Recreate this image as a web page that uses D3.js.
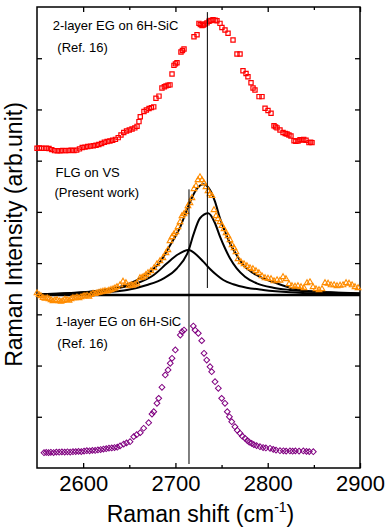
<!DOCTYPE html>
<html>
<head>
<meta charset="utf-8">
<script src="https://cdn.jsdelivr.net/npm/d3@7"></script>
<style>
  body { margin: 0; background: #fff; }
  svg text { font-family: "Liberation Sans", Arial, sans-serif; fill: #000; }
  .note { font-size: 13px; }
  .axis-title { font-size: 23px; }
  .tick text { font-size: 22px; }
</style>
</head>
<body>
<svg id="chart" width="390" height="530"></svg>
<script>
// [Raman shift (cm-1), intensity (arb.)]
const twoLayer = [
  [2550, 312.1], [2552.5, 312.3], [2555, 312.1], [2557.5, 312.0], [2560, 312.2], [2563, 311.8],
  [2566, 310.8], [2569, 309.8], [2572, 309.6], [2575, 309.7], [2578, 309.9], [2581, 309.8],
  [2584, 310.0], [2587, 310.1], [2590, 310.0], [2593, 310.3], [2596, 311.5], [2599, 312.8],
  [2602, 313.2], [2605, 313.8], [2608, 314.2], [2611, 314.5], [2614, 315.0], [2617, 315.8],
  [2620, 316.8], [2623, 318.0], [2626, 318.8], [2629, 319.2], [2632, 320.0], [2635, 320.8],
  [2638, 322.5], [2641, 325.0], [2644, 327.5], [2647, 329.0], [2650, 330.0], [2653, 331.0],
  [2656, 332.0], [2658.4, 333.5], [2660.5, 338.1], [2661.9, 342.9], [2665.9, 348.0], [2668.5, 349.5],
  [2671.4, 351.0], [2674, 351.8], [2676.5, 352.5], [2678.9, 361.0], [2682.2, 363.0], [2685.4, 371.0],
  [2688, 372.2], [2689.8, 373.0], [2692, 373.6], [2694.1, 374.0], [2696.3, 384.6], [2698.4, 393.0],
  [2700, 394.5], [2701.7, 395.5], [2706.0, 406.0], [2707.6, 407.5], [2709.3, 409.0], [2720.1, 421.0],
  [2723.4, 423.0], [2725.5, 434.0], [2727, 433.0], [2728.8, 432.0], [2730.4, 432.5], [2732.0, 433.5],
  [2734.2, 434.5], [2736.4, 436.0], [2738.5, 436.8], [2740.7, 437.5], [2743, 437.2], [2745.0, 436.5],
  [2748.3, 434.0], [2750.4, 430.0], [2753.7, 427.6], [2757.0, 424.3], [2762.4, 417.8], [2766.7, 404.1],
  [2770.0, 404.1], [2773.2, 387.8], [2776.5, 385.0], [2778.6, 382.0], [2781.9, 376.0], [2784.1, 371.0],
  [2786.2, 369.0], [2790.6, 362.5], [2793.8, 362.5], [2797.1, 351.1], [2800.3, 349.0], [2803.6, 346.3],
  [2806.8, 334.0], [2808.5, 333.0], [2810.1, 332.0], [2813.3, 330.0], [2816.6, 327.5], [2819, 326.5],
  [2820.9, 326.0], [2823, 325.0], [2825.2, 324.0], [2828.5, 319.5], [2830.5, 319.0], [2832.8, 319.2],
  [2835, 320.5], [2837.1, 320.2], [2839, 320.8], [2841.5, 320.0], [2844.7, 317.6], [2846.5, 318.0],
  [2848.0, 317.6]
];

const flg = [
  [2550.0, 170.8], [2552.2, 169.0], [2554.3, 167.9], [2556.5, 166.2], [2558.7, 165.5], [2561, 165.8],
  [2563.0, 165.0], [2565.2, 164.0], [2567.3, 163.0], [2569.5, 163.8], [2571.7, 164.0], [2574, 163.0],
  [2576.0, 162.5], [2578.2, 163.2], [2580.3, 164.5], [2582.5, 164.2], [2584.7, 163.5], [2587, 165.0],
  [2589.0, 166.0], [2591.2, 165.8], [2593.3, 166.5], [2595.5, 166.0], [2597.7, 166.9], [2600, 167.5],
  [2602.0, 167.9], [2604.2, 168.3], [2606.3, 167.4], [2608.5, 169.0], [2610.7, 170.3], [2613, 170.0],
  [2615.0, 170.8], [2617.2, 171.2], [2619.3, 171.8], [2621.5, 172.3], [2623.7, 172.8], [2626, 172.5],
  [2628.0, 173.3], [2630.2, 174.0], [2632.4, 174.7], [2634.5, 175.5], [2636.7, 176.7], [2639.9, 178.6],
  [2643.2, 182.1], [2646.4, 180.6], [2649.7, 177.7], [2652, 178.5], [2654.0, 178.2], [2656.2, 179.0],
  [2658.4, 180.1], [2661.6, 185.5], [2664, 186.0], [2666.0, 186.9], [2668, 188.5], [2670.3, 190.4],
  [2673.5, 192.3], [2676.8, 195.2], [2680.0, 199.1], [2683.3, 202.1], [2686.5, 205.0], [2689.8, 209.9],
  [2691.9, 212.8], [2694.1, 221.6], [2696.3, 225.5], [2698.4, 228.4], [2700.6, 230.4], [2702.8, 235.3],
  [2705.0, 240.1], [2707.1, 246.0], [2709.3, 248.0], [2711.5, 249.9], [2713.6, 255.8], [2715.8, 258.7],
  [2717.9, 263.6], [2720.1, 272.4], [2722.3, 275.4], [2724.4, 281.1], [2726.6, 284.0], [2728.8, 281.1],
  [2730.9, 278.2], [2733.1, 274.3], [2735.3, 270.4], [2737.5, 267.5], [2739.6, 265.6], [2741.8, 251.9],
  [2744.0, 246.0], [2746.1, 243.1], [2748.3, 240.1], [2750.4, 236.3], [2752.6, 233.3], [2754.8, 229.4],
  [2756.9, 226.5], [2759.1, 222.6], [2761.3, 217.7], [2763.5, 214.8], [2765.6, 210.9], [2767.8, 204.0],
  [2771.0, 201.1], [2774.3, 199.1], [2777.5, 197.2], [2780.8, 195.2], [2784.0, 194.3], [2787.3, 192.3],
  [2790.5, 190.4], [2793.8, 187.4], [2797.1, 185.5], [2800.3, 185.0], [2803.6, 184.5], [2806.8, 182.5],
  [2810.1, 183.5], [2813.3, 183.0], [2816.6, 186.5], [2819.8, 184.5], [2823.1, 179.6], [2826.3, 177.7],
  [2829.6, 177.2], [2832.8, 177.7], [2836.1, 176.7], [2839.3, 175.7], [2842.6, 180.6], [2845.8, 181.5],
  [2849.1, 176.7], [2852.3, 174.7], [2855.6, 173.8], [2858.8, 174.7], [2862.1, 180.6], [2865.4, 180.1],
  [2868.6, 178.6], [2871.9, 178.6], [2875.1, 177.7], [2878.4, 178.2], [2881.6, 178.6], [2884.9, 180.6],
  [2888.1, 180.1], [2891.4, 178.6], [2894.6, 176.7], [2897.9, 175.7]
];

const oneLayer = [
  [2557.6, 14.9], [2560, 15.2], [2562.5, 15.0], [2565, 15.3], [2568, 15.1], [2571, 15.5],
  [2574, 15.4], [2577, 15.7], [2580, 15.5], [2583, 15.8], [2586, 15.6], [2589, 15.9],
  [2592, 16.0], [2595, 16.2], [2598, 16.0], [2601, 16.5], [2604, 16.9], [2607, 16.8],
  [2610, 17.2], [2613, 17.1], [2616, 17.6], [2619, 18.0], [2622, 18.5], [2625, 18.8],
  [2628, 19.3], [2631, 19.6], [2634, 20.0], [2637, 20.3], [2640, 21.5], [2643.9, 23.4],
  [2647, 24.5], [2650.8, 25.7], [2654.8, 30.6], [2658, 32.5], [2661.9, 34.5], [2665.6, 38.8],
  [2671.0, 44.2], [2674.6, 52.7], [2676.5, 55.0], [2680.0, 63.2], [2681.9, 68.0], [2685.4, 78.8],
  [2689.0, 90.8], [2692.0, 95.7], [2694.4, 102.2], [2696.3, 107.1], [2699.9, 115.2], [2705.3, 129.8],
  [2707.1, 133.1], [2709.3, 134.7], [2719.4, 138.6], [2721.2, 134.7], [2724.8, 131.5], [2728.5, 124.3],
  [2731.0, 112.0], [2733.9, 105.4], [2737.5, 98.9], [2739.3, 94.0], [2742.9, 84.2], [2746.5, 77.8],
  [2750.1, 68.0], [2753.7, 63.2], [2756.2, 55.0], [2758.5, 50.0], [2761.0, 45.2], [2764.5, 40.3],
  [2767, 36.8], [2770.0, 33.9], [2772.5, 31.0], [2775.4, 29.0], [2778, 26.8], [2780, 25.2],
  [2782.6, 24.1], [2785, 22.8], [2788, 21.8], [2791.6, 20.8], [2795, 20.0], [2798, 19.6],
  [2802.5, 19.2], [2806, 18.2], [2809, 17.5], [2813.3, 16.9], [2817, 16.8], [2820, 16.5],
  [2824.1, 16.6], [2827, 16.4], [2830, 16.7], [2834, 16.5], [2838.6, 16.6], [2842, 16.2],
  [2845, 16.0], [2849.4, 15.9]
];

// fitted curves for the FLG spectrum
const fitTotal = [
  [2550, 169.6], [2586.1, 170.5], [2622.3, 173.8], [2640.3, 177.0], [2658.4, 183.5], [2672.8, 191.6],
  [2683.6, 201.4], [2694.4, 217.7], [2705.3, 235.5], [2714.4, 256.7], [2722.3, 271.4], [2730.2, 277.0],
  [2737.5, 271.4], [2742.9, 260.0], [2748.3, 243.8], [2753.7, 230.7], [2759.1, 219.4], [2766.4, 207.9],
  [2773.5, 198.2], [2784.4, 190.1], [2795.2, 185.2], [2809.7, 180.3], [2824.1, 176.0], [2842.2, 172.8],
  [2867.5, 171.5], [2900, 170.5]
];
const fitPeak2 = [
  [2550, 168.9], [2586.1, 169.6], [2622.3, 171.5], [2647.5, 173.8], [2669.2, 178.6], [2687.3, 185.2],
  [2701.7, 194.9], [2714.4, 212.8], [2719.4, 227.5], [2726.6, 243.8], [2735.6, 248.6], [2742.9, 238.9],
  [2748.3, 225.8], [2753.7, 214.5], [2759.1, 204.7], [2766.4, 194.9], [2775.4, 186.7], [2788.1, 180.3],
  [2806.0, 176.0], [2824.1, 173.8], [2860.2, 171.5], [2900, 170.2]
];
const fitPeak1 = [
  [2550, 169.6], [2586.1, 170.8], [2622.3, 173.5], [2640.3, 176.0], [2658.4, 180.3], [2676.5, 188.4],
  [2690.9, 199.8], [2701.7, 207.9], [2714.4, 212.8], [2723.0, 207.9], [2730.2, 201.4], [2737.5, 194.3],
  [2744.7, 188.4], [2751.9, 183.5], [2762.7, 179.3], [2777.2, 176.0], [2795.2, 173.8], [2824.1, 171.5],
  [2860.2, 170.2], [2900, 169.6]
];
const flgBaseline = [[2550, 168.9], [2900, 168.9]];

// vertical markers: [shift, from, to]
const peakLines = [[2734.6, 175.7, 445.0], [2714.7, 3.9, 272.0]];

const xTicks = [2600, 2700, 2800, 2900];
const xMinor = [2650, 2750, 2850];
const yTicks = [50, 100, 150, 200, 250, 300, 350, 400];

const notes = [
  { text: "2-layer EG on 6H-SiC", x: 2567, y: 428 },
  { text: "(Ref. 16)", x: 2572, y: 406 },
  { text: "FLG on VS", x: 2570, y: 284 },
  { text: "(Present work)", x: 2569, y: 265 },
  { text: "1-layer EG on 6H-SiC", x: 2570, y: 139 },
  { text: "(Ref. 16)", x: 2572, y: 117 }
];

const plotLeft = 37, plotRight = 360, plotTop = 7, plotBottom = 468;
const svg = d3.select("#chart");

const x = d3.scaleLinear().domain([2550, 2900]).range([plotLeft, plotRight]);
const y = d3.scaleLinear().domain([0, 450]).range([plotBottom, plotTop]);

// axes, ticks pointing inward
function tickAxis(axis, pos, size, labels) {
  const g = svg.append("g").attr("transform", pos)
    .call(axis.tickSize(size).tickPadding(7));
  if (!labels) g.selectAll("text").remove();
  g.select(".domain").remove();
  g.selectAll("line").attr("stroke", "#000").attr("stroke-width", 1.3);
  return g;
}
tickAxis(d3.axisBottom(x).tickValues(xTicks).tickFormat(d3.format("d")), `translate(0,${plotBottom})`, -5, true);
tickAxis(d3.axisBottom(x).tickValues(xMinor), `translate(0,${plotBottom})`, -3, false);
tickAxis(d3.axisTop(x).tickValues(xTicks), `translate(0,${plotTop})`, -5, false);
tickAxis(d3.axisTop(x).tickValues(xMinor), `translate(0,${plotTop})`, -3, false);
tickAxis(d3.axisLeft(y).tickValues(yTicks), `translate(${plotLeft},0)`, -5, false);
tickAxis(d3.axisRight(y).tickValues(yTicks), `translate(${plotRight},0)`, -5, false);

svg.append("rect")
  .attr("x", plotLeft).attr("y", plotTop)
  .attr("width", plotRight - plotLeft).attr("height", plotBottom - plotTop)
  .attr("fill", "none").attr("stroke", "#000").attr("stroke-width", 1.5);

const line = d3.line().x(d => x(d[0])).y(d => y(d[1])).curve(d3.curveMonotoneX);

svg.append("path").datum(flgBaseline).attr("d", line)
  .attr("fill", "none").attr("stroke", "#000").attr("stroke-width", 2.6);

[fitPeak1, fitPeak2, fitTotal].forEach(c => {
  svg.append("path").datum(c).attr("d", line)
    .attr("fill", "none").attr("stroke", "#000").attr("stroke-width", 2);
});

// scatter series
svg.append("g").selectAll("path").data(twoLayer).join("path")
  .attr("d", d3.symbol(d3.symbolSquare, 18))
  .attr("transform", d => `translate(${x(d[0])},${y(d[1])})`)
  .attr("fill", "none").attr("stroke", "#ff0000").attr("stroke-width", 1.2);

svg.append("g").selectAll("path").data(flg).join("path")
  .attr("d", d3.symbol(d3.symbolTriangle, 14))
  .attr("transform", d => `translate(${x(d[0])},${y(d[1])})`)
  .attr("fill", "none").attr("stroke", "#ff8c00").attr("stroke-width", 1.1);

svg.append("g").selectAll("path").data(oneLayer).join("path")
  .attr("d", d3.symbol(d3.symbolSquare, 17))
  .attr("transform", d => `translate(${x(d[0])},${y(d[1])}) rotate(45)`)
  .attr("fill", "none").attr("stroke", "#800080").attr("stroke-width", 1);

svg.append("g").selectAll("line").data(peakLines).join("line")
  .attr("x1", d => x(d[0])).attr("x2", d => x(d[0]))
  .attr("y1", d => y(d[1])).attr("y2", d => y(d[2]))
  .attr("stroke", "#000").attr("stroke-width", 1);

svg.append("g").selectAll("text").data(notes).join("text")
  .attr("class", "note")
  .attr("x", d => x(d.x)).attr("y", d => y(d.y))
  .text(d => d.text);

// axis titles
const xt = svg.append("text").attr("class", "axis-title")
  .attr("x", (plotLeft + plotRight) / 2 + 2).attr("y", 522)
  .attr("text-anchor", "middle");
xt.append("tspan").text("Raman shift (cm");
xt.append("tspan").attr("font-size", 14).attr("dy", -10).text("-1");
xt.append("tspan").attr("dy", 10).text(")");

svg.append("text").attr("class", "axis-title")
  .attr("transform", `translate(22,${(plotTop + plotBottom) / 2 - 3}) rotate(-90)`)
  .attr("text-anchor", "middle")
  .text("Raman Intensity (arb.unit)");
</script>
</body>
</html>
